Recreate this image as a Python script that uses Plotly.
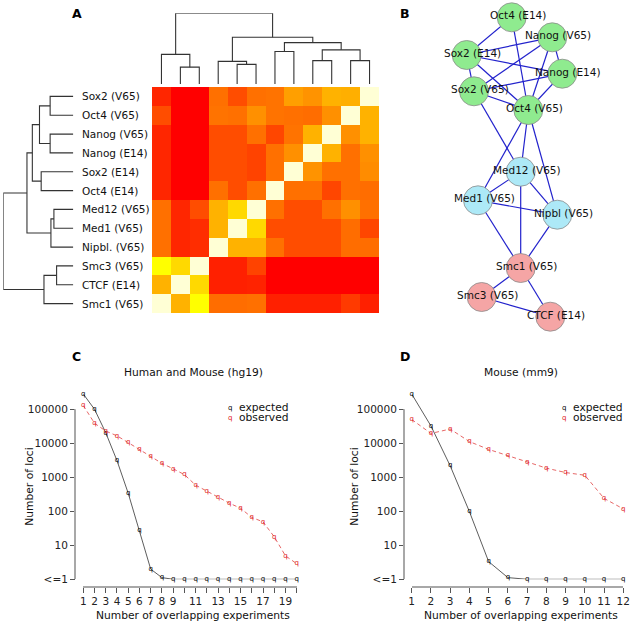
import plotly.graph_objects as go

W, H = 631, 624
FONT = "DejaVu Sans"

# ---------------- Panel A data ----------------
row_labels = ["Sox2 (V65)", "Oct4 (V65)", "Nanog (V65)", "Nanog (E14)", "Sox2 (E14)", "Oct4 (E14)",
              "Med12 (V65)", "Med1 (V65)", "Nipbl. (V65)", "Smc3 (V65)", "CTCF (E14)", "Smc1 (V65)"]
col_labels = row_labels[::-1]
# similarity levels (0 = red ... 11 = pale yellow), rows top->bottom, columns left->right
heat_z = [
    [1.2, 0, 0, 3.5, 2.4, 3.5, 3.6, 5.0, 4.6, 5.6, 5.5, 11],
    [2.4, 0, 0, 3.6, 3.5, 4.5, 3.6, 3.5, 3.4, 4.5, 11, 5.6],
    [1.2, 0, 0, 2.4, 2.4, 3.5, 2.2, 3.6, 5.6, 11, 4.5, 5.6],
    [1.2, 0, 0, 2.4, 2.4, 2.1, 3.5, 4.5, 11, 5.6, 3.5, 4.5],
    [1.2, 0, 0, 2.4, 2.4, 2.1, 3.5, 11, 4.6, 3.5, 3.5, 4.4],
    [1.2, 0, 0, 3.5, 2.4, 3.5, 11, 3.5, 3.5, 2.2, 3.5, 3.4],
    [3.5, 1.2, 2.4, 5.6, 6.8, 11, 3.5, 2.4, 2.4, 3.5, 4.5, 3.5],
    [3.5, 1.2, 1.4, 5.6, 11, 6.8, 2.4, 2.4, 2.4, 2.4, 3.4, 2.2],
    [3.5, 1.2, 1.4, 11, 5.6, 5.6, 3.5, 2.4, 2.4, 2.4, 3.4, 3.4],
    [8, 6.8, 11, 1, 1, 2.1, 0, 0, 0, 0, 0, 0],
    [5.6, 11, 6.8, 1, 1, 1.1, 0, 0, 0, 0, 0, 0],
    [11, 5.6, 8, 3.4, 3.4, 3.5, 1, 1, 1, 1, 1.8, 1],
]
heat_colors = ["#FF0000", "#FF2000", "#FF4000", "#FF6000", "#FF8000", "#FF9F00",
               "#FFBF00", "#FFDF00", "#FFFF00", "#FFFF2A", "#FFFF80", "#FFFFD5"]
# dendrogram merges: (child a, child b, height); new clusters named c1, c2, ...
dendro_merges = [
    ("Sox2 (V65)", "Oct4 (V65)", 23.3),
    ("Nanog (V65)", "Nanog (E14)", 23.3),
    ("c1", "c2", 34.0),
    ("Sox2 (E14)", "Oct4 (E14)", 32.3),
    ("c3", "c4", 41.2),
    ("Med12 (V65)", "Med1 (V65)", 19.5),
    ("c6", "Nipbl. (V65)", 22.5),
    ("c5", "c7", 46.6),
    ("Smc3 (V65)", "CTCF (E14)", 16.8),
    ("c9", "Smc1 (V65)", 29.5),
    ("c8", "c10", 70.4),
]

# ---------------- Panel B data ----------------
node_names = ["Oct4 (E14)", "Nanog (V65)", "Sox2 (E14)", "Nanog (E14)", "Sox2 (V65)", "Oct4 (V65)",
              "Med12 (V65)", "Med1 (V65)", "Nipbl (V65)", "Smc1 (V65)", "Smc3 (V65)", "CTCF (E14)"]
node_x = [7.17, 11.23, 2.67, 12.23, 3.40, 8.83, 8.07, 3.80, 11.73, 8.07, 4.17, 11.03]
node_y = [1.73, 3.73, 5.50, 7.37, 9.13, 11.00, 17.17, 20.03, 21.47, 26.80, 29.70, 31.67]
node_group = ["pluri"] * 6 + ["med"] * 3 + ["coh"] * 3
group_colors = {"pluri": "#8FEB8F", "med": "#ADE9F7", "coh": "#F5A5A5"}
edges = [
    ("Oct4 (E14)", "Sox2 (E14)"), ("Oct4 (E14)", "Oct4 (V65)"),
    ("Sox2 (E14)", "Nanog (V65)"), ("Sox2 (E14)", "Nanog (E14)"), ("Sox2 (E14)", "Sox2 (V65)"),
    ("Sox2 (E14)", "Oct4 (V65)"), ("Nanog (V65)", "Nanog (E14)"), ("Nanog (V65)", "Sox2 (V65)"),
    ("Nanog (V65)", "Oct4 (V65)"), ("Nanog (E14)", "Sox2 (V65)"), ("Nanog (E14)", "Oct4 (V65)"),
    ("Sox2 (V65)", "Oct4 (V65)"), ("Sox2 (V65)", "Med12 (V65)"),
    ("Oct4 (V65)", "Med1 (V65)"), ("Oct4 (V65)", "Med12 (V65)"), ("Oct4 (V65)", "Nipbl (V65)"),
    ("Med12 (V65)", "Med1 (V65)"), ("Med12 (V65)", "Nipbl (V65)"), ("Med12 (V65)", "Smc1 (V65)"),
    ("Med1 (V65)", "Nipbl (V65)"), ("Med1 (V65)", "Smc1 (V65)"), ("Nipbl (V65)", "Smc1 (V65)"),
    ("Smc1 (V65)", "Smc3 (V65)"), ("Smc1 (V65)", "CTCF (E14)"), ("Smc3 (V65)", "CTCF (E14)"),
]

# ---------------- Panel C / D data (log10 of number of loci) ----------------
c_x = list(range(1, 21))
c_expected = [5.45, 5.00, 4.31, 3.49, 2.53, 1.43, 0.30, 0.05, 0, 0, 0, 0, 0, 0, 0, 0, 0, 0, 0, 0]
c_observed = [5.11, 4.59, 4.36, 4.22, 4.02, 3.82, 3.61, 3.41, 3.25, 3.08,
              2.77, 2.59, 2.42, 2.24, 2.09, 1.82, 1.69, 1.25, 0.69, 0.46]
c_ticktext = ["1", "2", "3", "4", "5", "6", "7", "8", "9", "", "11", "", "13", "", "15", "", "17", "", "19", ""]
d_x = list(range(1, 13))
d_expected = [5.45, 4.51, 3.34, 1.99, 0.52, 0.05, 0, 0, 0, 0, 0, 0]
d_observed = [4.70, 4.29, 4.42, 4.05, 3.82, 3.64, 3.45, 3.27, 3.14, 3.06, 2.38, 2.07]
y_tickvals = [0, 1, 2, 3, 4, 5]
y_ticktext = ["<=1", "10", "100", "1000", "10000", "100000"]
Y_TOP = 5.6  # plotting range extends above the last tick so the first segments are not clipped
DECADE_PX = 34


def fx(px):
    return px / W


def fy(py):
    return 1 - py / H


fig = go.Figure()

# heatmap
n = len(heat_colors)
cscale = [[i / (n - 1), c] for i, c in enumerate(heat_colors)]
fig.add_trace(go.Heatmap(z=heat_z, x=list(range(12)), y=list(range(12)), colorscale=cscale,
                         zmin=0, zmax=11, showscale=False, hoverinfo="skip",
                         xaxis="x", yaxis="y"))


def dendro_segments(pos_of):
    pos = dict(pos_of)
    hgt = {k: 0.0 for k in pos}
    segs_p, segs_h = [], []
    for i, (a, b, h) in enumerate(dendro_merges):
        pa, pb = pos[a], pos[b]
        segs_p += [pa, pa, pb, pb, None]
        segs_h += [hgt[a], h, h, hgt[b], None]
        name = "c%d" % (i + 1)
        pos[name] = (pa + pb) / 2
        hgt[name] = h
    return segs_p, segs_h


# top dendrogram (columns)
tp, th = dendro_segments({lab: i for i, lab in enumerate(col_labels)})
fig.add_trace(go.Scatter(x=tp, y=th, mode="lines", line=dict(color="#333333", width=1.1),
                         xaxis="x", yaxis="y2", hoverinfo="skip"))
# left dendrogram (rows)
lp, lh = dendro_segments({lab: i for i, lab in enumerate(row_labels)})
fig.add_trace(go.Scatter(x=lh, y=lp, mode="lines", line=dict(color="#333333", width=1.1),
                         xaxis="x3", yaxis="y", hoverinfo="skip"))

# network edges
idx = {nm: i for i, nm in enumerate(node_names)}
ex, ey = [], []
for a, b in edges:
    ex += [node_x[idx[a]], node_x[idx[b]], None]
    ey += [node_y[idx[a]], node_y[idx[b]], None]
fig.add_trace(go.Scatter(x=ex, y=ey, mode="lines", line=dict(color="#2222CC", width=1.2),
                         xaxis="x4", yaxis="y4", hoverinfo="skip"))
fig.add_trace(go.Scatter(x=node_x, y=node_y, mode="markers",
                         marker=dict(size=29, color=[group_colors[g] for g in node_group],
                                     line=dict(color="#8a8a8a", width=0.8)),
                         xaxis="x4", yaxis="y4", hoverinfo="skip", cliponaxis=False))

# panels C and D
for xs, ex_, ob, xa, ya in [(c_x, c_expected, c_observed, "x5", "y5"),
                            (d_x, d_expected, d_observed, "x6", "y6")]:
    fig.add_trace(go.Scatter(x=xs, y=ex_, mode="lines+text", text=["q"] * len(xs),
                             textposition="middle center",
                             textfont=dict(family=FONT, size=7, color="#000000"),
                             line=dict(color="#333333", width=0.8),
                             xaxis=xa, yaxis=ya, cliponaxis=False, hoverinfo="skip"))
    fig.add_trace(go.Scatter(x=xs, y=ob, mode="lines+text", text=["q"] * len(xs),
                             textposition="middle center",
                             textfont=dict(family=FONT, size=7, color="#E02020"),
                             line=dict(color="#E04040", width=0.8, dash="4px,3px"),
                             xaxis=xa, yaxis=ya, cliponaxis=False, hoverinfo="skip"))

hidden = dict(visible=False, fixedrange=True, automargin=False)
axis_common = dict(showgrid=False, zeroline=False,
                   ticks="outside", ticklen=5, tickcolor="#555555", tickwidth=1, automargin=False,
                   tickfont=dict(family=FONT, size=10.5, color="#222222"), fixedrange=True)
AX_LINE = dict(linecolor="#a8a8a8", linewidth=2)
y_dom = [fy(579.3), fy(579.3 - Y_TOP * DECADE_PX)]

fig.update_layout(
    width=W, height=H, autosize=False,
    margin=dict(l=0, r=0, t=0, b=0, pad=0, autoexpand=False),
    paper_bgcolor="white", plot_bgcolor="rgba(0,0,0,0)", showlegend=False,
    font=dict(family=FONT, color="#222222"),
    xaxis=dict(domain=[fx(152), fx(379)], range=[-0.5, 11.5], anchor="y", **hidden),
    yaxis=dict(domain=[fy(313), fy(87)], range=[11.5, -0.5], anchor="x", **hidden),
    yaxis2=dict(domain=[fy(84), fy(13.3)], range=[0, 70.4], anchor="x", **hidden),
    xaxis3=dict(domain=[fx(3.3), fx(73.3)], range=[70.4, 0], anchor="y", **hidden),
    xaxis4=dict(domain=[fx(440), fx(600)], range=[0, 16], anchor="y4", **hidden),
    yaxis4=dict(domain=[fy(330), fy(0)], range=[33, 0], anchor="x4", **hidden),
    xaxis5=dict(domain=[fx(83.3), fx(296.7)], range=[1, 20], anchor="free", position=fy(586.7),
                tickvals=c_x, ticktext=c_ticktext, showline=True, **AX_LINE, **axis_common),
    yaxis5=dict(domain=y_dom, range=[0, Y_TOP], anchor="free", position=fx(75), showline=False,
                tickvals=y_tickvals, ticktext=y_ticktext, **axis_common),
    xaxis6=dict(domain=[fx(411.7), fx(623.3)], range=[1, 12], anchor="free", position=fy(586.7),
                tickvals=d_x, ticktext=[str(v) for v in d_x], showline=True, **AX_LINE, **axis_common),
    yaxis6=dict(domain=y_dom, range=[0, Y_TOP], anchor="free", position=fx(404), showline=False,
                tickvals=y_tickvals, ticktext=y_ticktext, **axis_common),
)

# y-axis lines spanning only the labelled ticks (R style)
shapes = []
for px, ya in [(75, "y5"), (404, "y6")]:
    shapes.append(dict(type="line", xref="paper", yref=ya, x0=fx(px), x1=fx(px),
                       y0=y_tickvals[0], y1=y_tickvals[-1],
                       line=dict(color=AX_LINE["linecolor"], width=AX_LINE["linewidth"])))
fig.update_layout(shapes=shapes)

ann = []
# row labels
for i, lab in enumerate(row_labels):
    ann.append(dict(x=fx(80), xref="paper", y=i, yref="y", text=lab, showarrow=False,
                    xanchor="left", yanchor="middle", font=dict(family=FONT, size=10.5, color="#111")))
# node labels
for nm, x, y in zip(node_names, node_x, node_y):
    ann.append(dict(x=x, y=y, xref="x4", yref="y4", text=nm, showarrow=False, xshift=6, yshift=2,
                    xanchor="center", yanchor="middle", font=dict(family=FONT, size=10.5, color="#111")))
# panel letters
for letter, px, py in [("A", 76.7, 13.5), ("B", 405, 13.5), ("C", 76.7, 356), ("D", 404.7, 356)]:
    ann.append(dict(x=fx(px), y=fy(py), xref="paper", yref="paper", text="<b>%s</b>" % letter,
                    showarrow=False, xanchor="center", yanchor="middle",
                    font=dict(family=FONT, size=12.5, color="#000")))
# titles and axis titles
for t, px, py in [("Human and Mouse (hg19)", 193, 372.7), ("Mouse (mm9)", 521, 372.7)]:
    ann.append(dict(x=fx(px), y=fy(py), xref="paper", yref="paper", text=t, showarrow=False,
                    xanchor="center", yanchor="middle", font=dict(family=FONT, size=10.7, color="#111")))
for px in [193, 521]:
    ann.append(dict(x=fx(px), y=fy(615), xref="paper", yref="paper", text="Number of overlapping experiments",
                    showarrow=False, xanchor="center", yanchor="middle",
                    font=dict(family=FONT, size=10.7, color="#111")))
for px in [30, 355]:
    ann.append(dict(x=fx(px), y=fy(486.7), xref="paper", yref="paper", text="Number of loci",
                    showarrow=False, xanchor="center", yanchor="middle", textangle=-90,
                    font=dict(family=FONT, size=10.7, color="#111")))
# legends
for mx in [230, 564]:
    for lab, col, py in [("expected", "#000000", 407.7), ("observed", "#E02020", 417.7)]:
        ann.append(dict(x=fx(mx), y=fy(py), xref="paper", yref="paper", text="q", showarrow=False,
                        xanchor="center", yanchor="middle", borderpad=0,
                        font=dict(family=FONT, size=7, color=col)))
        ann.append(dict(x=fx(mx + 8), y=fy(py), xref="paper", yref="paper", text=lab, showarrow=False,
                        xanchor="left", yanchor="middle", borderpad=0,
                        font=dict(family=FONT, size=10.7, color="#111")))
fig.update_layout(annotations=ann)

fig.write_html("out.html", config={"responsive": False, "displayModeBar": False},
               post_script="document.body.style.margin='0';document.body.style.overflow='hidden';")
